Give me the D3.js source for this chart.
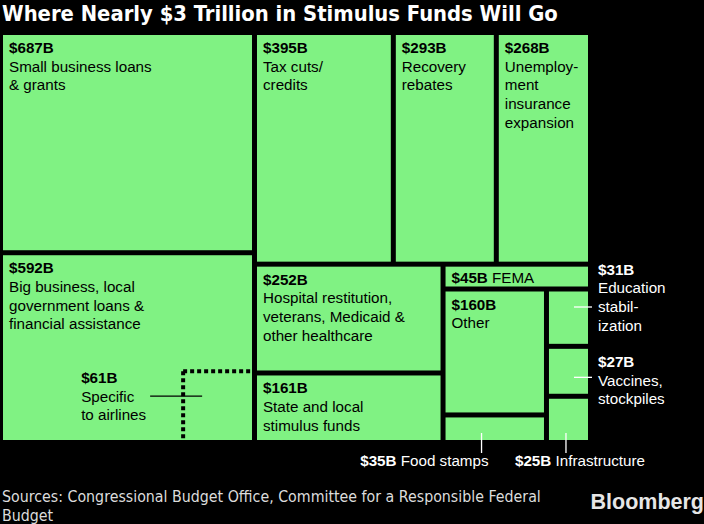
<!DOCTYPE html>
<html>
<head>
<meta charset="utf-8">
<script src="https://cdn.jsdelivr.net/npm/d3@7"></script>
<style>
html,body{margin:0;padding:0;background:#000;}
svg{display:block;}
</style>
</head>
<body>
<div id="chart"></div>
<script>
// ---- data ----
const title = "Where Nearly $3 Trillion in Stimulus Funds Will Go";
const sourceLines = ["Sources: Congressional Budget Office, Committee for a Responsible Federal", "Budget"];
const ids = ["small","big","tax","rebates","unemp","hosp","state","fema","other","food","edu","vacc","infra"];
const values = [687, 592, 395, 293, 268, 252, 161, 45, 160, 35, 31, 27, 25];
const valueLabels = ["$687B","$592B","$395B","$293B","$268B","$252B","$161B","$45B","$160B","$35B","$31B","$27B","$25B"];
const descriptions = [
  ["Small business loans", "& grants"],
  ["Big business, local", "government loans &", "financial assistance"],
  ["Tax cuts/", "credits"],
  ["Recovery", "rebates"],
  ["Unemploy-", "ment", "insurance", "expansion"],
  ["Hospital restitution,", "veterans, Medicaid &", "other healthcare"],
  ["State and local", "stimulus funds"],
  ["FEMA"],
  ["Other"],
  ["Food stamps"],
  ["Education", "stabil-", "ization"],
  ["Vaccines,", "stockpiles"],
  ["Infrastructure"]
];
const airlineValue = 61;
const airlineValueLabel = "$61B";
const airlineDescription = ["Specific", "to airlines"];

// ---- layout ----
const W = 704, H = 524;
const green = "#80f283";
const tileFont = "'Liberation Sans', Arial, Helvetica, sans-serif";
const condFont = "'DejaVu Sans Condensed', 'DejaVu Sans', sans-serif";

const leaf = i => ({ id: ids[i], value: values[i], idx: i });
const tree = { children: [
  { children: [leaf(0), leaf(1)] },
  { children: [
    { children: [leaf(2), leaf(3), leaf(4)] },
    { children: [
      { children: [leaf(5), leaf(6)] },
      { children: [
        leaf(7),
        { children: [
          { children: [leaf(8), leaf(9)] },
          { children: [leaf(10), leaf(11), leaf(12)] }
        ]}
      ]}
    ]}
  ]}
]};

const ox = 3, oy = 35;
const root = d3.hierarchy(tree).sum(d => d.value);
d3.treemap().tile(d3.treemapSliceDice).size([585, 405]).paddingInner(5).round(false)(root);
const leaves = root.leaves();

const svg = d3.select("#chart").append("svg").attr("width", W).attr("height", H);
svg.append("rect").attr("width", W).attr("height", H).attr("fill", "#000");

svg.append("text").attr("x", 2).attr("y", 21)
  .attr("font-family", condFont).attr("font-weight", "bold").attr("font-size", 21.8)
  .attr("fill", "#fff").text(title);

const g = svg.append("g").attr("transform", `translate(${ox},${oy})`);

g.selectAll("rect.tile").data(leaves).join("rect").attr("class", "tile")
  .attr("x", d => d.x0).attr("y", d => d.y0)
  .attr("width", d => d.x1 - d.x0).attr("height", d => d.y1 - d.y0)
  .attr("fill", green);

const byId = Object.fromEntries(leaves.map(d => [d.data.id, d]));
const inside = ["small","big","tax","rebates","unemp","hosp","state","other"];

function block(parent, x, y, vLabel, lines, color, lh) {
  const t = parent.append("text").attr("font-family", tileFont).attr("font-size", 15.2).attr("fill", color);
  t.append("tspan").attr("x", x).attr("y", y).attr("font-weight", "bold").text(vLabel);
  lines.forEach((l, i) => t.append("tspan").attr("x", x).attr("y", y + lh * (i + 1)).text(l));
}

inside.forEach(id => {
  const d = byId[id];
  block(g, d.x0 + 6, d.y0 + 18, valueLabels[d.data.idx], descriptions[d.data.idx], "#000", 18.7);
});

// FEMA inline
{
  const d = byId.fema;
  const t = g.append("text").attr("font-family", tileFont).attr("font-size", 15.2).attr("fill", "#000")
    .attr("x", d.x0 + 6).attr("y", d.y0 + 16.5);
  t.append("tspan").attr("font-weight", "bold").text(valueLabels[d.data.idx] + " ");
  t.append("tspan").text(descriptions[d.data.idx][0]);
}

// Airlines sub-area within the big-business tile
{
  const d = byId.big;
  const k = (d.x1 - d.x0) * (d.y1 - d.y0) / d.value;
  const side = Math.sqrt(airlineValue * k);
  const bx = d.x1 - side, by = d.y1 - side;
  g.append("line").attr("x1", bx).attr("x2", d.x1).attr("y1", by).attr("y2", by)
    .attr("stroke", "#000").attr("stroke-width", 4).attr("stroke-dasharray", "4,3");
  g.append("line").attr("x1", bx).attr("x2", bx).attr("y1", by).attr("y2", d.y1)
    .attr("stroke", "#000").attr("stroke-width", 4).attr("stroke-dasharray", "4,3");
  g.append("line").attr("x1", bx - 33).attr("x2", bx + 19).attr("y1", by + 25).attr("y2", by + 25)
    .attr("stroke", "#000").attr("stroke-width", 1.3);
  block(g, bx - 102, by + 12, airlineValueLabel, airlineDescription, "#000", 18.5);
}

// Right-side labels
{
  const d = byId.edu;
  const ly = d.y0 + 15.5;
  g.append("line").attr("x1", d.x0 + 25).attr("x2", d.x1 + 4).attr("y1", ly).attr("y2", ly)
    .attr("stroke", "#fff").attr("stroke-width", 1.3);
  block(g, d.x1 + 10, d.y0 - 17, valueLabels[d.data.idx], descriptions[d.data.idx], "#fff", 18.7);
}
{
  const d = byId.vacc;
  const ly = d.y0 + 28.5;
  g.append("line").attr("x1", d.x0 + 25).attr("x2", d.x1 + 4).attr("y1", ly).attr("y2", ly)
    .attr("stroke", "#fff").attr("stroke-width", 1.3);
  block(g, d.x1 + 10, d.y0 + 18, valueLabels[d.data.idx], descriptions[d.data.idx], "#fff", 18.7);
}

// Below labels
function below(id, lx, anchor, tx) {
  const d = byId[id];
  g.append("line").attr("x1", lx).attr("x2", lx).attr("y1", d.y1 - 7).attr("y2", d.y1 + 13)
    .attr("stroke", "#fff").attr("stroke-width", 1.3);
  const t = g.append("text").attr("font-family", tileFont).attr("font-size", 15.2).attr("fill", "#fff")
    .attr("x", tx).attr("y", d.y1 + 26).attr("text-anchor", anchor);
  t.append("tspan").attr("font-weight", "bold").text(valueLabels[d.data.idx] + " ");
  t.append("tspan").text(descriptions[d.data.idx][0]);
}
{
  const d = byId.food;
  const lx = d.x0 + 36;
  below("food", lx, "end", lx + 7);
}
{
  const d = byId.infra;
  const lx = d.x0 + 17;
  below("infra", lx, "start", lx - 51);
}

// Footer
const ft = svg.append("text").attr("font-family", condFont).attr("font-size", 15.8).attr("fill", "#dcdcdc");
sourceLines.forEach((l, i) => ft.append("tspan").attr("x", 2).attr("y", 502 + i * 18.5).text(l));

svg.append("text").attr("x", 704).attr("y", 509).attr("text-anchor", "end")
  .attr("font-family", tileFont).attr("font-weight", "bold").attr("font-size", 21.5)
  .attr("fill", "#e6e6e6").text("Bloomberg");
</script>
</body>
</html>
